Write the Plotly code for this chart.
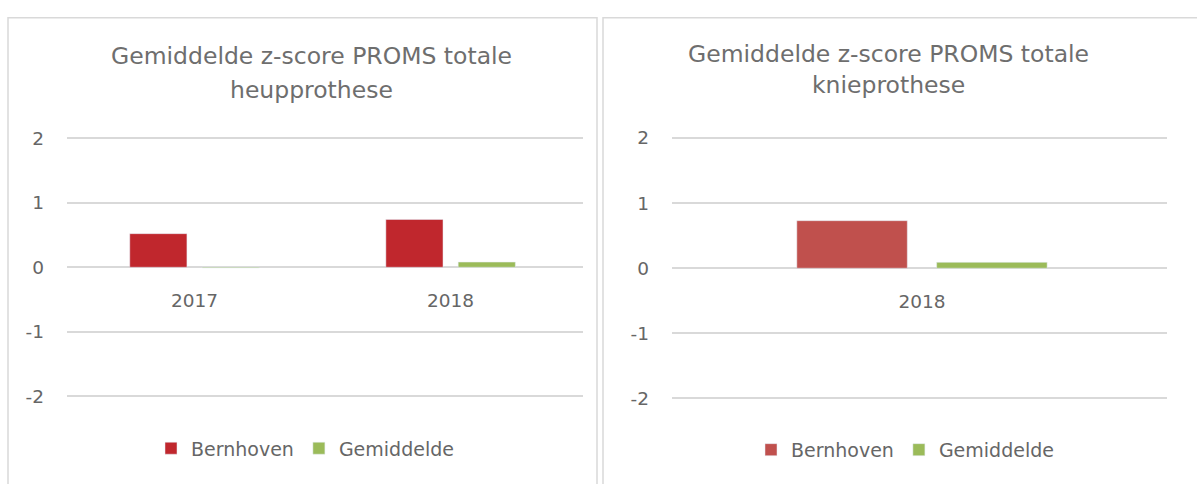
import plotly.graph_objects as go

# Data
years_heup = ["2017", "2018"]
bern_heup = [0.52, 0.74]
gem_heup = [-0.01, 0.08]

years_knie = ["2018"]
bern_knie = [0.73]
gem_knie = [0.09]

y_tickvals = [-2, -1, 0, 1, 2]
y_ticktext = ["-2", "-1", "0", "1", "2"]

W, H = 1197, 484
FONT = "DejaVu Sans, Verdana, sans-serif"
GRID = "#D9D9D9"
TICKC = "#666666"
TITLEC = "#6E6E6E"
RED1 = "#C0272D"
RED2 = "#C0504D"
GREEN = "#9BBB59"


def px(x):
    return x / W


def py(y):
    return 1 - y / H


fig = go.Figure()
fig.add_trace(go.Bar(x=years_heup, y=bern_heup, name="Bernhoven", marker_color=RED1,
                     xaxis="x", yaxis="y", legend="legend"))
fig.add_trace(go.Bar(x=years_heup, y=gem_heup, name="Gemiddelde", marker_color=GREEN,
                     xaxis="x", yaxis="y", legend="legend"))
fig.add_trace(go.Bar(x=years_knie, y=bern_knie, name="Bernhoven", marker_color=RED2,
                     xaxis="x2", yaxis="y2", legend="legend2"))
fig.add_trace(go.Bar(x=years_knie, y=gem_knie, name="Gemiddelde", marker_color=GREEN,
                     xaxis="x2", yaxis="y2", legend="legend2"))

tickfont = dict(family=FONT, size=18.5, color=TICKC)
yax_common = dict(range=[-2.05, 2.05], tickvals=y_tickvals, ticktext=y_ticktext,
                  showgrid=True, gridcolor=GRID, gridwidth=1.6, zeroline=False,
                  showline=False, ticks="", tickfont=tickfont, ticklabelstandoff=22,
                  fixedrange=True)
xax_common = dict(type="category", showgrid=False, zeroline=False, showline=False,
                  ticks="", tickfont=tickfont, ticklabelstandoff=20, fixedrange=True)

legfont = dict(family=FONT, size=19, color=TICKC)

fig.update_layout(
    width=W, height=H,
    margin=dict(l=0, r=0, t=0, b=0),
    paper_bgcolor="white", plot_bgcolor="white",
    barmode="group", bargap=0.435, bargroupgap=0.21,
    font=dict(family=FONT, color=TICKC),
    xaxis=dict(domain=[px(67), px(583)], anchor="free", position=py(268),
               range=[-0.498, 1.517], **xax_common),
    yaxis=dict(domain=[py(404.3), py(131.7)], anchor="x", **yax_common),
    xaxis2=dict(domain=[px(672), px(1167)], anchor="free", position=py(269),
                range=[-0.505, 0.495], **xax_common),
    yaxis2=dict(domain=[py(406.5), py(131.5)], anchor="x2", **yax_common),
    legend=dict(orientation="h", x=px(305), xanchor="center", y=py(454.5), yanchor="middle",
                font=legfont, bgcolor="rgba(0,0,0,0)"),
    legend2=dict(orientation="h", x=px(905), xanchor="center", y=py(456), yanchor="middle",
                 font=legfont, bgcolor="rgba(0,0,0,0)"),
    showlegend=True,
)

# Chart borders
fig.add_shape(type="rect", xref="paper", yref="paper", x0=px(8), x1=px(597),
              y0=-0.2, y1=py(11), line=dict(color=GRID, width=1.5), layer="below")
fig.add_shape(type="rect", xref="paper", yref="paper", x0=px(603), x1=px(1220),
              y0=-0.2, y1=py(11), line=dict(color=GRID, width=1.5), layer="below")

# Titles
titles = [
    ("Gemiddelde z-score PROMS totale", 311, 50),
    ("heupprothese", 311, 85),
    ("Gemiddelde z-score PROMS totale", 888, 48),
    ("knieprothese", 888, 80),
]
for text, x, y in titles:
    fig.add_annotation(text=text, x=px(x), y=py(y), xref="paper", yref="paper",
                       xanchor="center", yanchor="middle", showarrow=False,
                       font=dict(family=FONT, size=23.5, color=TITLEC))

fig.write_html("out.html", post_script="document.body.style.margin='0';",
               config={"displayModeBar": False})
